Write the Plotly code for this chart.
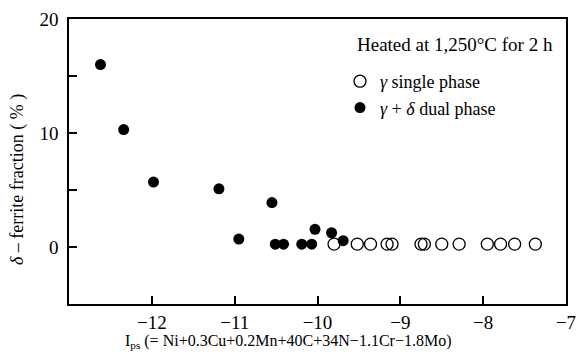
import plotly.graph_objects as go

# gamma + delta dual phase (filled)
dual_x = [-12.62, -12.34, -11.98, -11.19, -10.55, -10.95, -10.51, -10.41, -10.19, -10.07, -10.03, -9.83, -9.69]
dual_y = [16.0, 10.3, 5.7, 5.1, 3.9, 0.7, 0.25, 0.25, 0.25, 0.25, 1.55, 1.25, 0.55]

# gamma single phase (open)
single_x = [-9.80, -9.52, -9.36, -9.16, -9.10, -8.75, -8.71, -8.50, -8.29, -7.95, -7.79, -7.62, -7.37]
single_y = [0.25] * 13

x_ticks = [-12, -11, -10, -9, -8, -7]
x_tick_text = ["−12", "−11", "−10", "−9", "−8", "−7"]
y_ticks = [0, 10, 20]

FONT = "Liberation Serif, Times New Roman, serif"

W, H = 577, 355
PL, PR, PT, PB = 69, 566, 19, 304  # plot area in pixels


def px_x(p):
    return (p - PL) / (PR - PL)


def px_y(p):
    return (PB - p) / (PB - PT)


fig = go.Figure()
fig.add_trace(go.Scatter(
    x=single_x, y=single_y, mode="markers", name="<i>γ</i> single phase",
    marker=dict(symbol="circle-open", size=12, color="black", line=dict(width=1.3, color="black")),
))
fig.add_trace(go.Scatter(
    x=dual_x, y=dual_y, mode="markers", name="<i>γ</i> + <i>δ</i> dual phase",
    marker=dict(symbol="circle", size=11, color="black"),
))

axis_common = dict(
    showline=True, linecolor="black", linewidth=1.5, mirror=True,
    ticks="inside", ticklen=8, tickcolor="black", tickwidth=1.5,
    showgrid=False, zeroline=False, automargin=False,
    ticklabeloverflow="allow",
    tickfont=dict(family=FONT, size=19, color="black"),
)

fig.update_xaxes(range=[-13, -7], tickvals=x_ticks, ticktext=x_tick_text, **axis_common)
fig.update_yaxes(range=[-5, 20], tickvals=y_ticks, ticklabelstandoff=5,
                 minor=dict(ticks="inside", dtick=5, ticklen=8, tickcolor="black", tickwidth=1.5),
                 **axis_common)

fig.add_annotation(
    text="I<sub>ps</sub> (= Ni+0.3Cu+0.2Mn+40C+34N−1.1Cr−1.8Mo)",
    xref="paper", yref="paper", x=px_x(288), y=px_y(341), xanchor="center", yanchor="middle",
    showarrow=False, font=dict(family=FONT, size=16, color="black"),
)
fig.add_annotation(
    text="<i>δ</i> – ferrite fraction ( % )",
    xref="paper", yref="paper", x=px_x(17), y=px_y(180), xanchor="center", yanchor="middle",
    textangle=-90, showarrow=False, font=dict(family=FONT, size=18, color="black"),
)
fig.add_annotation(
    text="Heated at 1,250°C for 2 h",
    xref="paper", yref="paper", x=px_x(355), y=px_y(45), xanchor="left", yanchor="middle",
    showarrow=False, font=dict(family=FONT, size=19, color="black"),
)

fig.update_layout(
    width=W, height=H,
    margin=dict(l=PL, r=W - PR, t=PT, b=H - PB, autoexpand=False),
    paper_bgcolor="white", plot_bgcolor="white",
    font=dict(family=FONT, size=18, color="black"),
    legend=dict(
        x=px_x(340), y=px_y(63), xanchor="left", yanchor="top",
        font=dict(family=FONT, size=18, color="black"),
        bgcolor="rgba(0,0,0,0)", itemwidth=30, tracegroupgap=0,
    ),
)

# remove the browser's default 8px page margin so the figure fills the window
fig.write_html(
    "out.html",
    config={"displayModeBar": False},
    post_script="document.body.style.margin='0';document.body.style.overflow='hidden';",
)
